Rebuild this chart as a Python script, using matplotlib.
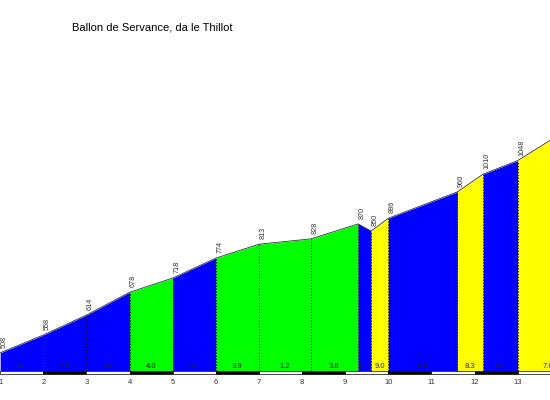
import matplotlib
matplotlib.use("Agg")
import matplotlib.pyplot as plt
from matplotlib.patches import Rectangle

# profilo: km e quota dei punti
km = [1.0, 2.0, 3.0, 4.0, 5.0, 6.0, 7.0, 8.2, 9.3, 9.6, 10.0, 11.6, 12.2, 13.0, 14.4]
quota = [508, 558, 614, 678, 718, 774, 813, 828, 870, 850, 886, 960, 1010, 1048, 1154]
pendenza = ["5.0", "5.6", "6.4", "4.0", "5.6", "3.9", "1.2", "3.8", "6.7", "9.0",
            "4.6", "8.3", "4.7", "7.6"]
colori = ["#0000ff", "#0000ff", "#0000ff", "#00ff00", "#0000ff", "#00ff00", "#00ff00",
          "#00ff00", "#0000ff", "#ffff00", "#0000ff", "#ffff00", "#0000ff", "#ffff00"]
km_ticks = list(range(1, 14))
titolo = "Ballon de Servance, da le Thillot"

base = 457       # quota del fondo del profilo
striscia = 8.5   # altezza della barra dei km

plt.rcParams["font.family"] = ["Liberation Sans", "DejaVu Sans"]
fig = plt.figure(figsize=(5.5, 4), dpi=100)
ax = fig.add_axes([0, 1 - 374 / 400, 1, 374 / 400])
ax.set_xlim(0.996, 0.996 + 550 / 43.13)
ax.set_ylim(1499 - 374 / 0.356, 1499)

for i in range(len(pendenza)):
    x0, x1 = km[i], km[i + 1]
    ax.fill_between([x0, x1], [quota[i], quota[i + 1]], base,
                    color=colori[i], linewidth=0)
    ax.text((x0 + x1) / 2, base + 2.5, pendenza[i], ha="center", va="bottom",
            fontsize=5.5, color="#222222")

# linee tratteggiate sui punti intermedi
for x, q in zip(km[1:-1], quota[1:-1]):
    ax.plot([x, x], [base, q], color="black", linewidth=0.7,
            linestyle=(0, (1.5, 1.5)), alpha=0.8)

ax.plot(km, quota, color="#333333", linewidth=0.6)

for x, q in zip(km, quota):
    ax.annotate(str(q), (x, q), xytext=(4, 5), textcoords="offset pixels",
                rotation=90, ha="center", va="bottom", fontsize=5.2,
                color="#333333")

# barra bianca/nera dei km
for k in km_ticks:
    col = "black" if k % 2 == 0 else "white"
    ax.add_patch(Rectangle((k, base - striscia), 1, striscia, facecolor=col,
                           edgecolor="black", linewidth=0.5, clip_on=False))

ax.set_xticks(km_ticks)
ax.set_xticklabels([str(k) for k in km_ticks])
ax.tick_params(axis="x", length=0, pad=3.3, labelsize=5.5, labelcolor="#333333")
ax.set_yticks([])
for s in ax.spines.values():
    s.set_visible(False)

fig.text(72 / 550, 1 - 27 / 400, titolo, ha="left", va="center", fontsize=8)

fig.savefig("out.png", dpi=100)
